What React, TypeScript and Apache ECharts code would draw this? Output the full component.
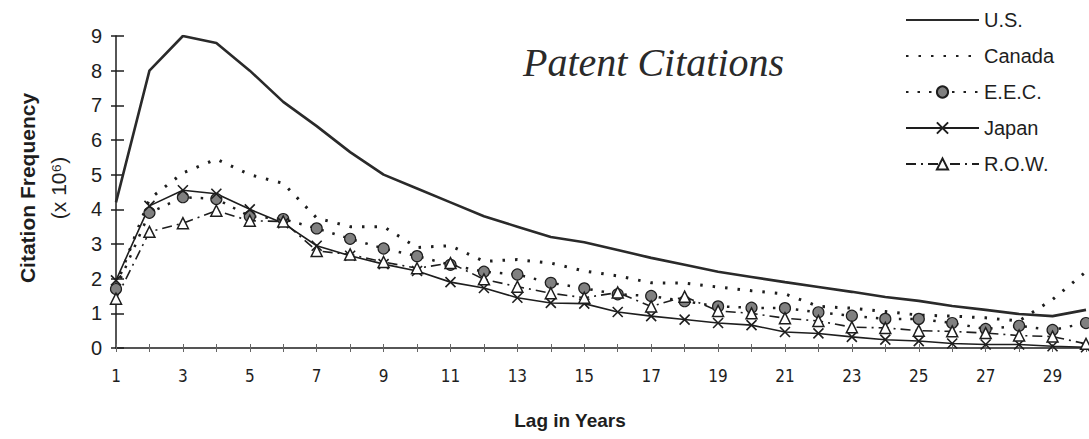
import React, { useEffect, useRef } from "react";
import * as echarts from "echarts";

const years = [1, 2, 3, 4, 5, 6, 7, 8, 9, 10, 11, 12, 13, 14, 15, 16, 17, 18, 19, 20, 21, 22, 23, 24, 25, 26, 27, 28, 29, 30];
const us = [4.2, 8.0, 9.0, 8.8, 8.0, 7.1, 6.4, 5.65, 5.0, 4.6, 4.2, 3.8, 3.5, 3.2, 3.05, 2.83, 2.6, 2.4, 2.2, 2.05, 1.9, 1.76, 1.62, 1.47, 1.36, 1.21, 1.1, 0.98, 0.92, 1.1];
const canada = [1.8, 4.3, 5.05, 5.45, 5.0, 4.75, 3.75, 3.5, 3.5, 2.9, 2.95, 2.5, 2.55, 2.45, 2.22, 2.08, 1.88, 1.87, 1.76, 1.65, 1.56, 1.2, 1.15, 1.05, 0.95, 0.92, 0.87, 0.78, 1.4, 2.2];
const eec = [1.7, 3.9, 4.35, 4.3, 3.8, 3.72, 3.45, 3.15, 2.87, 2.65, 2.4, 2.2, 2.12, 1.88, 1.72, 1.55, 1.5, 1.35, 1.2, 1.16, 1.15, 1.03, 0.93, 0.84, 0.84, 0.72, 0.55, 0.64, 0.52, 0.72];
const japan = [1.95, 4.1, 4.55, 4.45, 4.0, 3.6, 2.95, 2.66, 2.42, 2.22, 1.9, 1.73, 1.45, 1.3, 1.28, 1.04, 0.92, 0.82, 0.72, 0.66, 0.46, 0.42, 0.32, 0.24, 0.2, 0.13, 0.1, 0.1, 0.05, 0.02];
const row = [1.42, 3.35, 3.6, 3.96, 3.67, 3.65, 2.8, 2.7, 2.48, 2.3, 2.45, 1.98, 1.77, 1.58, 1.45, 1.6, 1.2, 1.48, 1.07, 1.0, 0.86, 0.78, 0.6, 0.58, 0.5, 0.48, 0.43, 0.36, 0.33, 0.12];
const seriesNames = ["U.S.", "Canada", "E.E.C.", "Japan", "R.O.W."];

const pairs = (vals: number[]) => years.map((y, i) => [y, vals[i]]);

const INK = "#1e1e1e";
const SANS = "'Liberation Sans', Arial, sans-serif";
const NARROW = "'Liberation Sans Narrow', 'DejaVu Sans Condensed', 'Liberation Sans', sans-serif";

export default function App() {
  const ref = useRef<HTMLDivElement>(null);
  useEffect(() => {
    if (!ref.current) return;
    const chart = echarts.init(ref.current, undefined, { renderer: "svg" });
    const grid = { left: 116, right: 3, top: 36, bottom: 91 };
    chart.setOption({
      animation: false,
      backgroundColor: "#ffffff",
      grid,
      legend: {
        orient: "vertical",
        left: 905,
        top: 10,
        padding: 0,
        itemWidth: 73,
        itemHeight: 14,
        itemGap: 16,
        data: seriesNames.map((n, i) =>
          i < 2 ? { name: n, itemStyle: { opacity: 0 } } : { name: n }
        ),
        textStyle: { fontSize: 20, color: INK, fontFamily: SANS },
      },
      xAxis: [
        {
          type: "value",
          min: 1,
          max: 30,
          interval: 1,
          axisLine: { show: true, lineStyle: { color: INK, width: 1.5 } },
          axisTick: { show: true, length: 4, lineStyle: { color: "#666", width: 1 } },
          axisLabel: {
            margin: 19,
            fontSize: 17,
            color: INK,
            fontFamily: NARROW,
            formatter: (v: number) => (v % 2 === 1 && v < 30 ? String(v) : ""),
          },
          splitLine: { show: false },
        },
        {
          type: "value",
          min: 1,
          max: 30,
          interval: 1,
          position: "bottom",
          axisLine: { show: false },
          axisTick: { show: true, inside: true, length: 4, lineStyle: { color: "#666", width: 1 } },
          axisLabel: { show: false },
          splitLine: { show: false },
        },
      ],
      yAxis: [
        {
          type: "value",
          min: 0,
          max: 9,
          interval: 1,
          axisLine: { show: true, lineStyle: { color: INK, width: 1.5 } },
          axisTick: { show: true, length: 5, lineStyle: { color: INK, width: 1.5 } },
          axisLabel: { margin: 14, fontSize: 20, color: INK, fontFamily: SANS },
          splitLine: { show: false },
        },
        {
          type: "value",
          min: 0,
          max: 9,
          interval: 1,
          position: "left",
          axisLine: { show: false },
          axisTick: { show: true, inside: true, length: 8, lineStyle: { color: INK, width: 1.5 } },
          axisLabel: { show: false },
          splitLine: { show: false },
        },
      ],
      series: [
        {
          name: "U.S.",
          type: "line",
          data: pairs(us),
          symbol: "none",
          lineStyle: { color: "#2a2a2a", width: 2.6, type: "solid" },
          itemStyle: { color: "#2a2a2a" },
        },
        {
          name: "Canada",
          type: "line",
          data: pairs(canada),
          symbol: "none",
          lineStyle: { color: INK, width: 3, type: [2.5, 10], cap: "butt" },
          itemStyle: { color: INK },
        },
        {
          name: "E.E.C.",
          type: "line",
          data: pairs(eec),
          symbol: "circle",
          symbolSize: 11,
          lineStyle: { color: INK, width: 2.5, type: [2.5, 9] },
          itemStyle: { color: "#808080", borderColor: INK, borderWidth: 1.2 },
        },
        {
          name: "Japan",
          type: "line",
          data: pairs(japan),
          symbol: "path://M0 0L10 10M10 0L0 10",
          symbolSize: 10,
          lineStyle: { color: INK, width: 1.6, type: "solid" },
          itemStyle: { color: INK, borderColor: INK, borderWidth: 1.6 },
        },
        {
          name: "R.O.W.",
          type: "line",
          data: pairs(row),
          symbol: "triangle",
          symbolSize: 11,
          lineStyle: { color: INK, width: 1.6, type: [10, 5, 2, 5] },
          itemStyle: { color: "#ffffff", borderColor: INK, borderWidth: 1.5 },
        },
      ],
      graphic: [
        {
          type: "text",
          x: 27,
          y: 188,
          rotation: Math.PI / 2,
          style: {
            text: "Citation Frequency",
            fontSize: 21,
            fontWeight: "bold",
            fill: INK,
            fontFamily: SANS,
            align: "center",
            verticalAlign: "middle",
          },
        },
        {
          type: "text",
          x: 58,
          y: 188,
          rotation: Math.PI / 2,
          style: {
            text: "(x 10\u2076)",
            fontSize: 21,
            fill: INK,
            fontFamily: SANS,
            align: "center",
            verticalAlign: "middle",
          },
        },
        {
          type: "text",
          x: 570,
          y: 420,
          style: {
            text: "Lag in Years",
            fontSize: 19,
            fontWeight: "bold",
            fill: INK,
            fontFamily: SANS,
            align: "center",
            verticalAlign: "middle",
          },
        },
        {
          type: "text",
          x: 523,
          y: 62,
          style: {
            text: "Patent Citations",
            fontSize: 40,
            fontStyle: "italic",
            fill: "#2a2a2a",
            fontFamily: "'Liberation Serif', 'DejaVu Serif', serif",
            align: "left",
            verticalAlign: "middle",
          },
        },
      ],
    });
    return () => chart.dispose();
  }, []);
  return (
    <div
      ref={ref}
      style={{ position: "absolute", left: 0, top: 0, width: 1089, height: 439, background: "#fff" }}
    />
  );
}
